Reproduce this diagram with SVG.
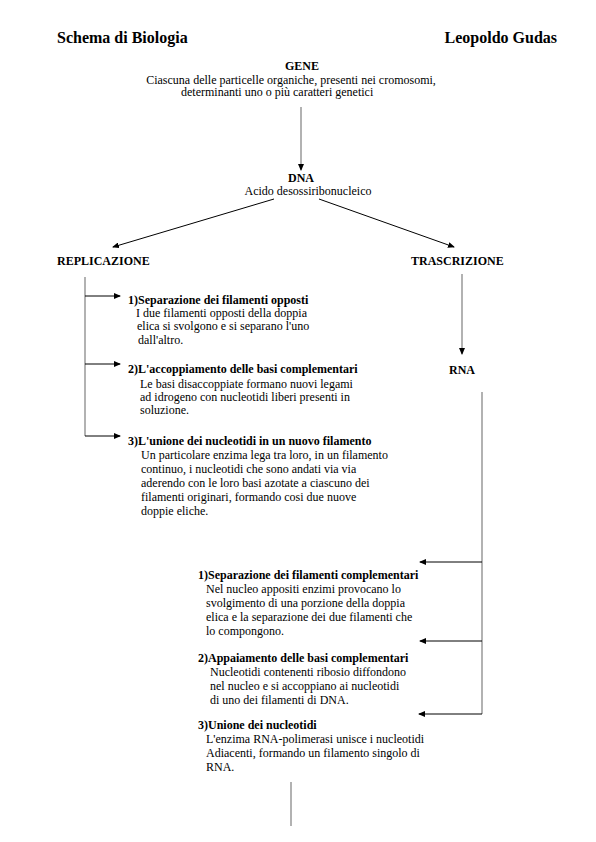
<svg xmlns="http://www.w3.org/2000/svg" width="596" height="842" viewBox="0 0 596 842">
<style>
.b{font-weight:bold}
.t{font-weight:bold;font-size:16px}
.v{stroke:#999;stroke-width:1.5;fill:none}
.h{stroke:#000;stroke-width:1;fill:none}
</style>
<defs>
<marker id="ar" markerWidth="7" markerHeight="6" refX="6" refY="3" orient="auto" markerUnits="userSpaceOnUse">
<path d="M0,0 L7,3 L0,6 Z" fill="#000"/>
</marker>
</defs>
<rect width="596" height="842" fill="#fff"/>
<g font-family="Liberation Serif, serif" font-size="12" fill="#000">
<text class="t" x="57" y="43">Schema di Biologia</text>
<text class="t" x="557" y="43" text-anchor="end">Leopoldo Gudas</text>
<g id="connectors">
<line class="v" x1="301" y1="107" x2="301" y2="170" marker-end="url(#ar)"/>
<line class="h" x1="274" y1="199" x2="113" y2="247" marker-end="url(#ar)"/>
<line class="h" x1="319" y1="199" x2="454" y2="247" marker-end="url(#ar)"/>
<line class="v" x1="85" y1="277" x2="85" y2="436"/>
<line class="h" x1="85" y1="296" x2="120" y2="296" marker-end="url(#ar)"/>
<line class="h" x1="85" y1="364" x2="120" y2="364" marker-end="url(#ar)"/>
<line class="h" x1="85" y1="436" x2="120" y2="436" marker-end="url(#ar)"/>
<line class="v" x1="462" y1="274" x2="462" y2="354" marker-end="url(#ar)"/>
<line class="v" x1="482" y1="392" x2="482" y2="714"/>
<line class="h" x1="482" y1="562" x2="420" y2="562" marker-end="url(#ar)"/>
<line class="h" x1="482" y1="641" x2="420" y2="641" marker-end="url(#ar)"/>
<line class="h" x1="482" y1="714" x2="419" y2="714" marker-end="url(#ar)"/>
<line class="v" x1="291" y1="782" x2="291" y2="826"/>
</g>
<g id="gene">
<text class="b" x="302" y="70" text-anchor="middle">GENE</text>
<text x="291" y="83.5" text-anchor="middle">Ciascuna delle particelle organiche, presenti nei cromosomi,</text>
<text x="181" y="96">determinanti uno o più caratteri genetici</text>
</g>
<g id="dna">
<text class="b" x="301" y="182" text-anchor="middle">DNA</text>
<text x="308" y="195" text-anchor="middle">Acido desossiribonucleico</text>
</g>
<g id="replicazione"><text class="b" x="57" y="265">REPLICAZIONE</text></g>
<g id="trascrizione"><text class="b" x="411" y="265">TRASCRIZIONE</text></g>
<g id="rna"><text class="b" x="449" y="374">RNA</text></g>
<g id="rep1">
<text class="b" x="128" y="304">1)Separazione dei filamenti opposti</text>
<text x="136" y="317">I due filamenti opposti della doppia</text>
<text x="137" y="330">elica si svolgono e si separano l'uno</text>
<text x="138" y="344">dall'altro.</text>
</g>
<g id="rep2">
<text class="b" x="128" y="373">2)L'accoppiamento delle basi complementari</text>
<text x="140" y="388">Le basi disaccoppiate formano nuovi legami</text>
<text x="140" y="401">ad idrogeno con nucleotidi liberi presenti in</text>
<text x="140" y="414">soluzione.</text>
</g>
<g id="rep3">
<text class="b" x="128" y="445">3)L'unione dei nucleotidi in un nuovo filamento</text>
<text x="141" y="459">Un particolare enzima lega tra loro, in un filamento</text>
<text x="141" y="473">continuo, i nucleotidi che sono andati via via</text>
<text x="141" y="487">aderendo con le loro basi azotate a ciascuno dei</text>
<text x="141" y="501">filamenti originari, formando cosi due nuove</text>
<text x="141" y="515">doppie eliche.</text>
</g>
<g id="tra1">
<text class="b" x="198" y="579">1)Separazione dei filamenti complementari</text>
<text x="206" y="593">Nel nucleo appositi enzimi provocano lo</text>
<text x="206" y="607">svolgimento di una porzione della doppia</text>
<text x="206" y="621">elica e la separazione dei due filamenti che</text>
<text x="206" y="635">lo compongono.</text>
</g>
<g id="tra2">
<text class="b" x="198" y="662">2)Appaiamento delle basi complementari</text>
<text x="210" y="676">Nucleotidi contenenti ribosio diffondono</text>
<text x="210" y="690">nel nucleo e si accoppiano ai nucleotidi</text>
<text x="210" y="704">di uno dei filamenti di DNA.</text>
</g>
<g id="tra3">
<text class="b" x="198" y="729">3)Unione dei nucleotidi</text>
<text x="206" y="743">L'enzima RNA-polimerasi unisce i nucleotidi</text>
<text x="206" y="757">Adiacenti, formando un filamento singolo di</text>
<text x="206" y="771">RNA.</text>
</g>
</g>
</svg>
